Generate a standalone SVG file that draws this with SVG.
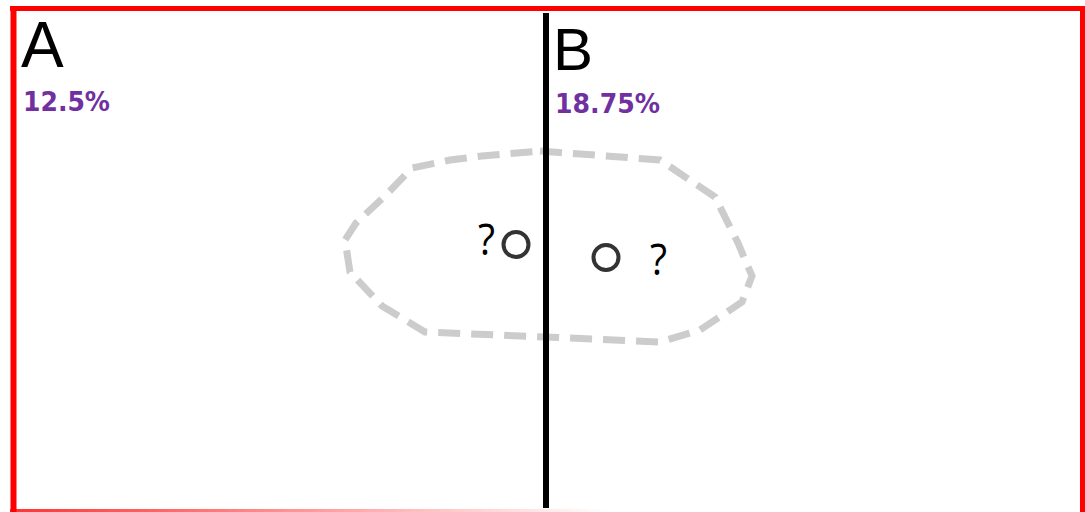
<svg xmlns="http://www.w3.org/2000/svg" width="1085" height="512" viewBox="0 0 1085 512">
<style>
.lbl{font-family:"Liberation Sans",Arial,sans-serif;fill:#000}
.pct{font-family:"DejaVu Sans","Liberation Sans",sans-serif;font-weight:bold;fill:#7030A0}
.q{font-family:"Open Sans","Liberation Sans",Arial,sans-serif;font-size:44px;fill:#000}
.dot{fill:none;stroke:#333;stroke-width:4}
</style>
<defs>
<linearGradient id="fade" x1="0" y1="0" x2="1" y2="0">
<stop offset="0" stop-color="#f00" stop-opacity="0.8"/>
<stop offset="1" stop-color="#f00" stop-opacity="0"/>
</linearGradient>
</defs>
<rect width="1085" height="512" fill="#fff"/>
<g id="frame">
<line x1="10" y1="8.5" x2="1085" y2="8.5" stroke="#f00" stroke-width="5"/>
<line x1="13.5" y1="6" x2="13.5" y2="512" stroke="#f00" stroke-width="6"/>
<line x1="1082.5" y1="10" x2="1082.5" y2="512" stroke="#f00" stroke-width="5"/>
<rect x="10" y="509" width="600" height="3" fill="url(#fade)"/>
</g>
<g id="region">
<path d="M540,151 L660,160 L715,197 L738,243 L752,276 L742,302 L700,330 L660,342 L545,337 L425,332 L382,306 L350,272 L345,240 L356,223 L386,195 L412,168 L450,160 L482,156 Z" fill="none" stroke="#ccc" stroke-width="7" stroke-dasharray="22,11"/>
</g>
<g id="divider">
<line x1="546" y1="13" x2="546" y2="508" stroke="#000" stroke-width="6"/>
</g>
<g id="zoneA">
<text class="lbl" x="21" y="67" font-size="64">A</text>
<text class="pct" x="23" y="111" font-size="26" textLength="87" lengthAdjust="spacingAndGlyphs">12.5%</text>
</g>
<g id="zoneB">
<text class="lbl" x="553" y="70" font-size="60">B</text>
<text class="pct" x="555" y="113" font-size="26" textLength="105" lengthAdjust="spacingAndGlyphs">18.75%</text>
</g>
<g id="pointA">
<circle class="dot" cx="516" cy="244.5" r="12.5"/>
<text class="q" x="478" y="255" textLength="17" lengthAdjust="spacingAndGlyphs">?</text>
</g>
<g id="pointB">
<circle class="dot" cx="606" cy="257.5" r="12.5"/>
<text class="q" x="650" y="275" textLength="17" lengthAdjust="spacingAndGlyphs">?</text>
</g>
</svg>
